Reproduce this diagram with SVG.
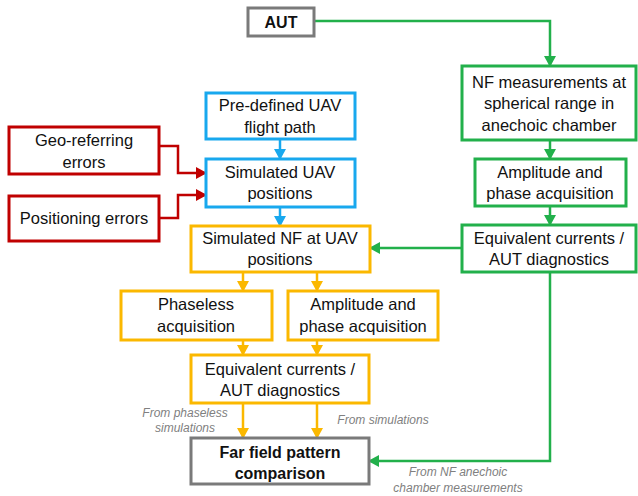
<svg xmlns="http://www.w3.org/2000/svg" width="638" height="496" viewBox="0 0 638 496">
<style>
.box{fill:#fff;stroke-width:3}
.g{stroke:#22b04b}.b{stroke:#18a8ee}.r{stroke:#c00000}.o{stroke:#fbb800}.k{stroke:#7a7a7a}
text{font-family:"Liberation Sans",Arial,sans-serif;font-size:16.5px;fill:#111;text-anchor:middle;dominant-baseline:central}
.bold{font-weight:bold;font-size:16px}
.lbl{font-style:italic;font-size:12px;fill:#808080}
.c{fill:none;stroke-width:2.5}
</style>
<defs>
<marker id="ag" markerUnits="userSpaceOnUse" markerWidth="12" markerHeight="12" refX="10" refY="6" orient="auto"><path d="M0,0 L11,6 L0,12 z" fill="#22b04b"/></marker>
<marker id="ab" markerUnits="userSpaceOnUse" markerWidth="12" markerHeight="12" refX="10" refY="6" orient="auto"><path d="M0,0 L11,6 L0,12 z" fill="#18a8ee"/></marker>
<marker id="ar" markerUnits="userSpaceOnUse" markerWidth="12" markerHeight="12" refX="10" refY="6" orient="auto"><path d="M0,0 L11,6 L0,12 z" fill="#c00000"/></marker>
<marker id="ao" markerUnits="userSpaceOnUse" markerWidth="12" markerHeight="12" refX="10" refY="6" orient="auto"><path d="M0,0 L11,6 L0,12 z" fill="#fbb800"/></marker>
</defs>
<g id="connectors">
<path class="c g" d="M314,21 H550 V66" marker-end="url(#ag)"/>
<path class="c g" d="M550,140 V159" marker-end="url(#ag)"/>
<path class="c g" d="M550,206 V225" marker-end="url(#ag)"/>
<path class="c g" d="M462,248 H370" marker-end="url(#ag)"/>
<path class="c g" d="M550,272 V461 H369" marker-end="url(#ag)"/>
<path class="c b" d="M280,139 V159" marker-end="url(#ab)"/>
<path class="c b" d="M280,207 V226" marker-end="url(#ab)"/>
<path class="c r" d="M159,146 H178 V173 H206" marker-end="url(#ar)"/>
<path class="c r" d="M159,218 H178 V195 H206" marker-end="url(#ar)"/>
<path class="c o" d="M243,272 V291" marker-end="url(#ao)"/>
<path class="c o" d="M317,272 V291" marker-end="url(#ao)"/>
<path class="c o" d="M243,340 V355" marker-end="url(#ao)"/>
<path class="c o" d="M317,340 V355" marker-end="url(#ao)"/>
<path class="c o" d="M243,403 V438" marker-end="url(#ao)"/>
<path class="c o" d="M317,403 V438" marker-end="url(#ao)"/>
</g>
<g id="aut"><rect class="box k" x="248" y="8" width="66" height="28"/><text class="bold" x="281" y="22">AUT</text></g>
<g id="nf-meas"><rect class="box g" x="462" y="66" width="174" height="74"/><text x="549" y="82">NF measurements at</text><text x="549" y="103">spherical range in</text><text x="549" y="125">anechoic chamber</text></g>
<g id="amp-green"><rect class="box g" x="475" y="159" width="151" height="47"/><text x="550" y="172">Amplitude and</text><text x="550" y="193">phase acquisition</text></g>
<g id="eq-green"><rect class="box g" x="462" y="225" width="174" height="47"/><text x="549" y="238">Equivalent currents /</text><text x="549" y="259">AUT diagnostics</text></g>
<g id="predefined"><rect class="box b" x="206" y="93" width="149" height="46"/><text x="280" y="105">Pre-defined UAV</text><text x="280" y="127">flight path</text></g>
<g id="sim-uav"><rect class="box b" x="206" y="159" width="149" height="48"/><text x="280" y="172">Simulated UAV</text><text x="280" y="193">positions</text></g>
<g id="geo"><rect class="box r" x="9" y="127" width="150" height="47"/><text x="84" y="140">Geo-referring</text><text x="84" y="162">errors</text></g>
<g id="pos"><rect class="box r" x="9" y="196" width="150" height="45"/><text x="84" y="218">Positioning errors</text></g>
<g id="sim-nf"><rect class="box o" x="191" y="226" width="179" height="46"/><text x="280" y="238">Simulated NF at UAV</text><text x="280" y="259">positions</text></g>
<g id="phaseless"><rect class="box o" x="121" y="291" width="151" height="49"/><text x="196" y="304">Phaseless</text><text x="196" y="326">acquisition</text></g>
<g id="amp-orange"><rect class="box o" x="288" y="291" width="150" height="49"/><text x="363" y="304">Amplitude and</text><text x="363" y="326">phase acquisition</text></g>
<g id="eq-orange"><rect class="box o" x="191" y="355" width="178" height="48"/><text x="280" y="369">Equivalent currents /</text><text x="280" y="390">AUT diagnostics</text></g>
<g id="farfield"><rect class="box k" x="191" y="438" width="178" height="46"/><text class="bold" x="280" y="452">Far field pattern</text><text class="bold" x="280" y="473">comparison</text></g>
<g id="labels">
<text class="lbl" x="185" y="413">From phaseless</text><text class="lbl" x="185" y="428">simulations</text>
<text class="lbl" x="383" y="420">From simulations</text>
<text class="lbl" x="458" y="472">From NF anechoic</text><text class="lbl" x="458" y="488">chamber measurements</text>
</g>
</svg>
